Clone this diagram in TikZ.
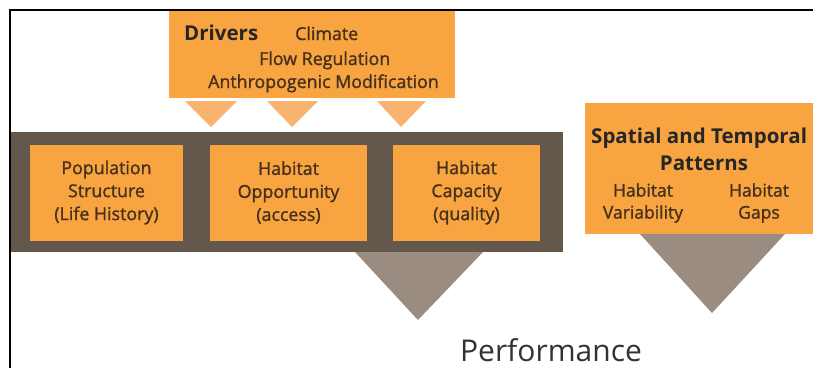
\documentclass[tikz,border=0pt]{standalone}
\usepackage{fontspec}
\setmainfont{Open Sans}
\newfontfamily\semifont{Open Sans}[FakeBold=1.3]
\definecolor{orng}{HTML}{F8A541}
\definecolor{lorng}{HTML}{F8B46E}
\definecolor{band}{HTML}{64584C}
\definecolor{taupe}{HTML}{9B8C82}
\definecolor{ink}{HTML}{45301C}
\begin{document}
\begin{tikzpicture}[x=1pt,y=-1pt,
  obox/.style={fill=orng, draw=none, inner sep=0pt, align=center, text=ink,
    font=\semifont\fontsize{17.8}{23}\selectfont},
  txt/.style={inner sep=0pt, text=ink, font=\semifont\fontsize{17.8}{23}\selectfont},
  head/.style={inner sep=0pt, text=black!85, font=\fontsize{20.5}{24}\selectfont\bfseries}]
\useasboundingbox (0,0) rectangle (813,368);
\clip (0,0) rectangle (813,368);
\fill[white] (0,0) rectangle (813,368);
% drivers
\node[fill=orng, inner sep=0pt, minimum width=286pt, minimum height=87pt] (drv) at (312,54.5) {};
\node[head, anchor=base west] (drvh) at (184,40) {Drivers};
\node[txt, anchor=base west] (clim) at (295,40) {Climate};
\node[txt, anchor=base west] (flow) at (259,65) {Flow Regulation};
\node[txt, anchor=base west] (anth) at (208,88) {Anthropogenic Modification};
% small triangles
\fill[lorng] (185,101) -- (237,101) -- (211,127) -- cycle;
\fill[lorng] (267,101) -- (318,101) -- (292,127) -- cycle;
\fill[lorng] (377,101) -- (426,101) -- (401,127) -- cycle;
% band
\node[fill=band, inner sep=0pt, minimum width=552pt, minimum height=120pt] (bnd) at (287,192) {};
\fill[taupe] (355,252) -- (483,252) -- (418,320) -- cycle;
\node[obox, minimum width=153pt, minimum height=96pt] (pop) at (106.5,192.5) {Population\\Structure\\(Life History)};
\node[obox, minimum width=157pt, minimum height=96pt] (opp) at (288.5,192.5) {Habitat\\Opportunity\\(access)};
\node[obox, minimum width=147pt, minimum height=96pt] (cap) at (466.5,192.5) {Habitat\\Capacity\\(quality)};
% spatial
\fill[taupe] (640,234) -- (785,234) -- (712,313) -- cycle;
\node[fill=orng, inner sep=0pt, minimum width=250pt, minimum height=131pt] (spt) at (710,168.5) {};
\node[head, anchor=base west] (spth) at (591,143) {Spatial and Temporal};
\node[head, anchor=base] (pat) at (704,170) {Patterns};
\node[txt, align=center, font=\semifont\fontsize{17.5}{22}\selectfont] (hv) at (643,203) {Habitat\\Variability};
\node[txt, align=center, font=\semifont\fontsize{17.5}{22}\selectfont] (hg) at (759,203) {Habitat\\Gaps};
% performance
\node[inner sep=0pt, anchor=base, text=black!80, font=\fontsize{30}{34}\selectfont] (perf) at (551,361) {Performance};
% frame
\draw[line width=2pt] (10,368) -- (10,10) -- (813,10);
\end{tikzpicture}
\end{document}
